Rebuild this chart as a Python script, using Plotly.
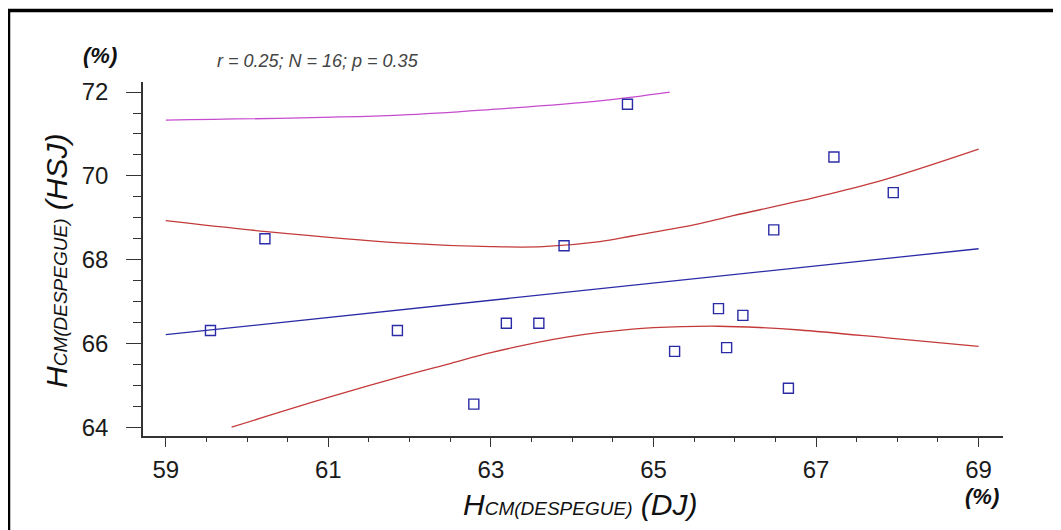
import plotly.graph_objects as go

# ---- data ----
pts_x = [59.55, 60.22, 61.85, 62.79, 63.19, 63.59, 63.90, 64.68,
         65.26, 65.80, 65.90, 66.10, 66.48, 66.66, 67.22, 67.95]
pts_y = [66.31, 68.50, 66.31, 64.55, 66.48, 66.48, 68.33, 71.71,
         65.81, 66.83, 65.90, 66.67, 68.71, 64.93, 70.45, 69.60]

fit_x = [59.0, 69.0]
fit_y = [66.21, 68.26]

ci_up_x = [59.0, 60.24, 61.88, 63.0, 63.64, 64.34, 64.75, 65.57, 65.98, 66.8, 67.7, 69.0]
ci_up_y = [68.93, 68.67, 68.40, 68.31, 68.31, 68.43, 68.57, 68.86, 69.05, 69.40, 69.83, 70.64]

ci_lo_x = [59.81, 61.0, 61.88, 62.5, 63.0, 63.93, 64.74, 65.36, 65.8, 66.3, 66.8, 67.94, 69.0]
ci_lo_y = [64.0, 64.71, 65.20, 65.52, 65.78, 66.15, 66.34, 66.40, 66.41, 66.38, 66.32, 66.12, 65.93]

pi_up_x = [59.0, 61.88, 63.11, 64.34, 65.2]
pi_up_y = [71.33, 71.45, 71.60, 71.79, 72.0]

x_ticks = [59, 61, 63, 65, 67, 69]
y_ticks = [64, 66, 68, 70, 72]
stats_text = "r = 0.25; N = 16; p = 0.35"

# ---- layout geometry (pixels in the screenshot; page body adds an 8px offset) ----
OFF = 8
W, H = 1061 - OFF, 530 - OFF
L, R, T, B = 143 - OFF, 1003 - OFF, 82 - OFF, 436 - OFF


def px(x):
    return (x - OFF - L) / (R - L)


def py(y):
    return (B - (y - OFF)) / (B - T)


FONT = "Liberation Sans, Arial, sans-serif"
AX = "#333333"
BLUE = "#2b2ba6"
RED = "#c43a3a"
MAG = "#c64ccf"

fig = go.Figure()
fig.add_trace(go.Scatter(x=pi_up_x, y=pi_up_y, mode="lines", line=dict(color=MAG, width=1.3, shape="spline"), showlegend=False))
fig.add_trace(go.Scatter(x=ci_up_x, y=ci_up_y, mode="lines", line=dict(color=RED, width=1.3, shape="spline"), showlegend=False))
fig.add_trace(go.Scatter(x=ci_lo_x, y=ci_lo_y, mode="lines", line=dict(color=RED, width=1.3, shape="spline"), showlegend=False))
fig.add_trace(go.Scatter(x=fit_x, y=fit_y, mode="lines", line=dict(color=BLUE, width=1.3), showlegend=False))
fig.add_trace(go.Scatter(x=pts_x, y=pts_y, mode="markers",
                         marker=dict(symbol="square-open", size=10, color=BLUE, line=dict(width=1.4, color=BLUE)),
                         showlegend=False))

fig.update_layout(
    template="none",
    width=W, height=H,
    margin=dict(l=L, r=W - R, t=T, b=H - B, pad=0),
    paper_bgcolor="white", plot_bgcolor="white",
    font=dict(family=FONT, color="#1a1a1a"),
    showlegend=False,
)
fig.update_xaxes(
    range=[58.72, 69.30], showgrid=False, zeroline=False,
    showline=True, linecolor=AX, linewidth=1.5,
    tickmode="array", tickvals=x_ticks, ticktext=[str(v) for v in x_ticks],
    ticks="outside", ticklen=9, tickwidth=1.3, tickcolor=AX,
    minor=dict(ticks="outside", ticklen=4, tickwidth=1.3, tickcolor=AX, dtick=0.5, tick0=59),
    tickfont=dict(size=24, family=FONT, color="#1a1a1a"),
    ticklabelstandoff=2, automargin=False,
)
fig.update_yaxes(
    range=[63.79, 72.24], showgrid=False, zeroline=False,
    showline=True, linecolor=AX, linewidth=1.5,
    tickmode="array", tickvals=y_ticks, ticktext=[str(v) for v in y_ticks],
    ticks="outside", ticklen=15, tickwidth=1.3, tickcolor=AX,
    minor=dict(ticks="outside", ticklen=8, tickwidth=1.3, tickcolor=AX, dtick=0.5, tick0=64),
    tickfont=dict(size=24, family=FONT, color="#1a1a1a"),
    ticklabelstandoff=13, automargin=False,
)

sub = "<span style='font-size:19px'>CM(DESPEGUE)</span>"
anns = [
    dict(x=px(580), y=py(504), text="<i>H" + sub + " (DJ)</i>", font=dict(size=30, family=FONT, color="#111")),
    dict(x=px(56), y=py(261), text="<i>H" + sub + " (HSJ)</i>", textangle=-90, font=dict(size=30, family=FONT, color="#111")),
    dict(x=px(100), y=py(56), text="<b><i>(%)</i></b>", font=dict(size=22, family=FONT, color="#111")),
    dict(x=px(982), y=py(497), text="<b><i>(%)</i></b>", font=dict(size=22, family=FONT, color="#111")),
    dict(x=px(215), y=py(61), text="<i>" + stats_text + "</i>", xanchor="left", font=dict(size=18, family=FONT, color="#444")),
]
for a in anns:
    a.setdefault("xanchor", "center")
    fig.add_annotation(xref="paper", yref="paper", yanchor="middle", showarrow=False, **a)

# black frame (top and left edges visible)
fig.add_shape(type="rect", xref="paper", yref="paper",
              x0=px(8.5), x1=px(1200), y0=py(700), y1=py(10.5),
              line=dict(color="black", width=3.5), fillcolor="rgba(0,0,0,0)", layer="above")

fig.write_html("out.html")
